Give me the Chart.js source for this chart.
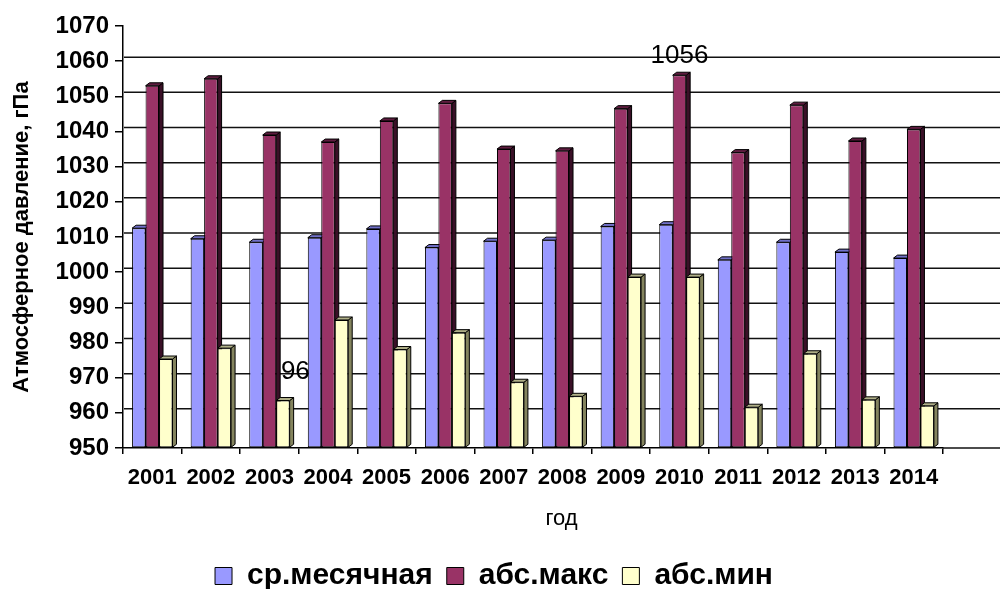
<!DOCTYPE html>
<html>
<head>
<meta charset="utf-8">
<script src="https://cdn.jsdelivr.net/npm/chart.js@4"></script>
<style>
  html, body { margin: 0; padding: 0; background: #fff; }
  #wrap { width: 1003px; height: 589px; }
</style>
</head>
<body>
<div id="wrap"><canvas id="pressure-chart" width="1003" height="589"></canvas></div>
<script>
// data
const years = ['2001', '2002', '2003', '2004', '2005', '2006', '2007',
  '2008', '2009', '2010', '2011', '2012', '2013', '2014'];
const avgMonthly = [1012.5, 1009.5, 1008.5, 1009.8, 1012.3, 1007, 1008.8,
  1009.1, 1013, 1013.5, 1003.5, 1008.5, 1005.7, 1004];
const absMax = [1053, 1055, 1039, 1037, 1043, 1048, 1035,
  1034.5, 1046.5, 1056, 1034, 1047.5, 1037.3, 1040.6];
const absMin = [975.3, 978.4, 963.5, 986.4, 978, 982.8, 968.7,
  964.7, 998.6, 998.6, 961.6, 976.8, 963.7, 962];
const seriesNames = ['ср.месячная', 'абс.макс', 'абс.мин'];
const yMin = 950, yMax = 1070, yStep = 10;
const xTitle = 'год';
const maxNote = '1056', maxNoteYear = '2010';
const minNote = '96', minNoteYear = '2003';

const fillColors = ['#9999ff', '#993366', '#ffffcc'];
const sideColors = ['#55558f', '#3a1027', '#84845e'];
const capColors = ['#7070c8', '#5e1c3f', '#b0b088'];
const depthX = 4, depthY = 3;
const FONT = '"Liberation Sans", Arial, sans-serif';

// fake 3D: back wall gridlines + bar depth
const wallPlugin = {
  id: 'wall',
  beforeDatasetsDraw(chart) {
    const { ctx, chartArea, scales } = chart;
    const y = scales.y;
    ctx.save();
    ctx.strokeStyle = '#111';
    ctx.lineWidth = 1.5;
    y.ticks.forEach(t => {
      if (t.value === yMax || t.value === yMin) return;
      const py = y.getPixelForValue(t.value) - 4;
      ctx.beginPath();
      ctx.moveTo(chartArea.left + 1, py);
      ctx.lineTo(chart.width - 3, py);
      ctx.stroke();
    });
    // floor edge continues past the last category
    ctx.beginPath();
    ctx.moveTo(chartArea.right, chartArea.bottom);
    ctx.lineTo(chart.width - 3, chartArea.bottom);
    ctx.stroke();

    ctx.lineWidth = 1;
    ctx.strokeStyle = '#000';
    chart.data.datasets.forEach((ds, i) => {
      const meta = chart.getDatasetMeta(i);
      meta.data.forEach(bar => {
        const p = bar.getProps(['x', 'y', 'base', 'width'], true);
        const l = p.x - p.width / 2, r = p.x + p.width / 2;
        ctx.fillStyle = sideColors[i];
        ctx.beginPath();
        ctx.moveTo(r, p.y);
        ctx.lineTo(r + depthX, p.y - depthY);
        ctx.lineTo(r + depthX, p.base - depthY);
        ctx.lineTo(r, p.base);
        ctx.closePath();
        ctx.fill();
        ctx.stroke();
        ctx.fillStyle = capColors[i];
        ctx.beginPath();
        ctx.moveTo(l, p.y);
        ctx.lineTo(l + depthX, p.y - depthY);
        ctx.lineTo(r + depthX, p.y - depthY);
        ctx.lineTo(r, p.y);
        ctx.closePath();
        ctx.fill();
        ctx.stroke();
      });
    });
    ctx.restore();
  }
};

const notesPlugin = {
  id: 'notes',
  afterDatasetsDraw(chart) {
    const { ctx, chartArea } = chart;
    ctx.save();
    ctx.fillStyle = '#000';
    ctx.font = '26px ' + FONT;
    ctx.textBaseline = 'alphabetic';
    const hi = chart.getDatasetMeta(1).data[years.indexOf(maxNoteYear)];
    ctx.textAlign = 'center';
    ctx.fillText(maxNote, hi.x, hi.y - 12);
    const lo = chart.getDatasetMeta(2).data[years.indexOf(minNoteYear)];
    ctx.textAlign = 'left';
    ctx.fillText(minNote, lo.x - 2, lo.y - 22);
    // axis title is centred under the whole floor, not just the categories
    ctx.font = '22px ' + FONT;
    ctx.textAlign = 'center';
    ctx.textBaseline = 'middle';
    ctx.fillText(xTitle, (chartArea.left + chart.width - 3) / 2, 519);
    ctx.restore();
  }
};

const pressureData = {
  labels: years,
  datasets: [avgMonthly, absMax, absMin].map((vals, i) => ({
    label: seriesNames[i],
    data: vals,
    base: yMin,
    backgroundColor: fillColors[i],
    borderColor: '#000',
    borderWidth: 1,
    borderSkipped: false,
    barPercentage: 1.0,
    categoryPercentage: 0.69
  }))
};

const pressureOptions = {
  responsive: false,
  animation: false,
  devicePixelRatio: 1,
  layout: { padding: { top: 26, right: 15, left: 0, bottom: -12 } },
  scales: {
    y: {
      min: yMin,
      max: yMax,
      afterFit: s => { s.width = 123; },
      ticks: {
        stepSize: yStep,
        color: '#000',
        padding: 6,
        callback: v => String(v),
        font: { family: FONT, size: 24, weight: 'bold' }
      },
      grid: { drawOnChartArea: false, tickLength: 8, color: '#000', lineWidth: 1.5 },
      border: { color: '#000', width: 1.5 },
      title: {
        display: true,
        text: 'Атмосферное давление, гПа',
        color: '#000',
        font: { family: FONT, size: 22, weight: 'bold' },
        padding: { top: 9, bottom: 0 }
      }
    },
    // empty strip on the right where the floor runs on past the last year
    spacer: {
      type: 'linear',
      position: 'right',
      afterFit: s => { s.width = 45; },
      ticks: { display: false },
      grid: { display: false },
      border: { display: false }
    },
    x: {
      afterFit: s => { s.height = 99; },
      ticks: {
        color: '#000',
        padding: 11,
        maxRotation: 0,
        autoSkip: false,
        font: { family: FONT, size: 22, weight: 'bold' }
      },
      grid: { drawOnChartArea: false, tickLength: 6, color: '#000', lineWidth: 1.5, offset: true },
      border: { color: '#000', width: 1.5 }
    }
  },
  plugins: {
    legend: {
      position: 'bottom',
      labels: {
        color: '#000',
        boxWidth: 17,
        boxHeight: 17,
        padding: 14,
        font: { family: FONT, size: 30, weight: 'bold' }
      }
    },
    tooltip: { enabled: false }
  }
};

const pressureChart = new Chart(document.getElementById('pressure-chart'), {
  type: 'bar',
  data: pressureData,
  options: pressureOptions,
  plugins: [wallPlugin, notesPlugin]
});
</script>
</body>
</html>
